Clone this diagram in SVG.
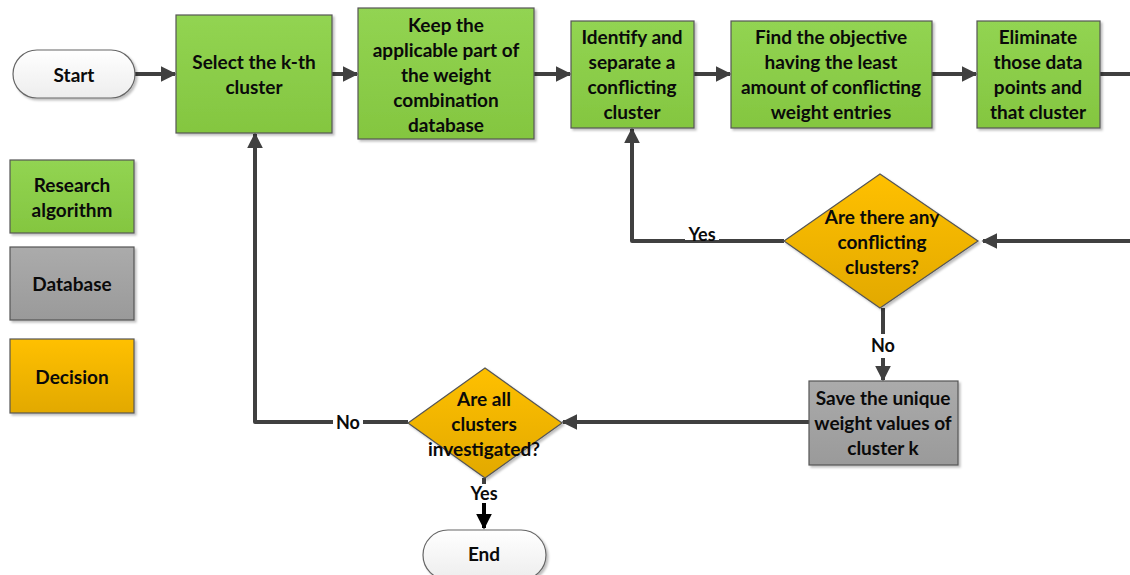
<svg xmlns="http://www.w3.org/2000/svg" width="1130" height="575" viewBox="0 0 1130 575">
  <defs>
    <linearGradient id="gGreen" x1="0" y1="0" x2="0" y2="1">
      <stop offset="0" stop-color="#92D452"/>
      <stop offset="1" stop-color="#84C640"/>
    </linearGradient>
    <linearGradient id="gGray" x1="0" y1="0" x2="0" y2="1">
      <stop offset="0" stop-color="#ABABAB"/>
      <stop offset="1" stop-color="#9A9A9A"/>
    </linearGradient>
    <linearGradient id="gOrange" x1="0" y1="0" x2="0" y2="1">
      <stop offset="0" stop-color="#FFC000"/>
      <stop offset="1" stop-color="#E2A900"/>
    </linearGradient>
    <linearGradient id="gWhite" x1="0" y1="0" x2="0" y2="1">
      <stop offset="0" stop-color="#FFFFFF"/>
      <stop offset="1" stop-color="#EDEDED"/>
    </linearGradient>
    <filter id="shadow" x="-10%" y="-10%" width="130%" height="130%">
      <feDropShadow dx="2" dy="2" stdDeviation="1.2" flood-color="#000" flood-opacity="0.25"/>
    </filter>
    <marker id="arrow" viewBox="0 0 10 10" refX="9" refY="5" markerWidth="4" markerHeight="4.4" orient="auto" markerUnits="strokeWidth">
      <path d="M0,0 L10,5 L0,10 z" fill="#404040"/>
    </marker>
    <marker id="arrowBlack" viewBox="0 0 10 10" refX="9" refY="5" markerWidth="4" markerHeight="4.4" orient="auto" markerUnits="strokeWidth">
      <path d="M0,0 L10,5 L0,10 z" fill="#000"/>
    </marker>
  </defs>
  <style>
    .proc { fill: url(#gGreen); stroke: #555; stroke-width: 1.2; filter: url(#shadow); }
    .db { fill: url(#gGray); stroke: #555; stroke-width: 1.2; filter: url(#shadow); }
    .dec { fill: url(#gOrange); stroke: #555; stroke-width: 1.2; filter: url(#shadow); }
    .term { fill: url(#gWhite); stroke: #666; stroke-width: 1.2; filter: url(#shadow); }
    .t { font-family: Lato, "Liberation Sans", sans-serif; font-weight: bold; font-size: 19px; fill: #0a0a0a; text-anchor: middle; dominant-baseline: central; }
    .lbl { font-family: Lato, "Liberation Sans", sans-serif; font-weight: bold; font-size: 18px; fill: #0a0a0a; text-anchor: middle; dominant-baseline: central; }
    .line { fill: none; stroke: #404040; stroke-width: 4; stroke-linejoin: round; }
    .arr { marker-end: url(#arrow); }
  </style>

  <!-- connectors -->
  <g id="connectors">
    <path class="line arr" d="M135,74 H175"/>
    <path class="line arr" d="M332,74 H357"/>
    <path class="line arr" d="M534,74 H570"/>
    <path class="line arr" d="M694,74 H730"/>
    <path class="line arr" d="M932,74 H976"/>
    <path class="line" d="M1100,74 H1130"/>
    <!-- feedback into the conflict check -->
    <path class="line arr" d="M1130,241 H983"/>
    <!-- Yes: back to identify -->
    <path class="line arr" d="M784,241 H632 V129"/>
    <rect x="685" y="224" width="34" height="16" fill="#fff"/>
    <text class="lbl" x="702" y="234">Yes</text>
    <!-- No: down to save -->
    <path class="line" d="M883,308 V334"/>
    <text class="lbl" x="883" y="345">No</text>
    <path class="line arr" d="M883,358 V380"/>
    <!-- save to all-clusters check -->
    <path class="line arr" d="M809,422 H563"/>
    <!-- No: back to select -->
    <path class="line arr" d="M408,422 H255 V134"/>
    <rect x="333" y="412" width="30" height="20" fill="#fff"/>
    <text class="lbl" x="348" y="422">No</text>
    <!-- Yes: to end -->
    <path class="line" d="M484,478 V484" stroke="#000"/>
    <text class="lbl" x="484" y="493">Yes</text>
    <path d="M484,503 V528" fill="none" stroke="#000" stroke-width="4" marker-end="url(#arrowBlack)"/>
  </g>

  <!-- legend -->
  <g id="legend-research">
    <rect class="proc" x="10" y="160" width="124" height="73"/>
    <text class="t" x="72" y="184">Research</text>
    <text class="t" x="72" y="209">algorithm</text>
  </g>
  <g id="legend-database">
    <rect class="db" x="10" y="247" width="124" height="73"/>
    <text class="t" x="72" y="283">Database</text>
  </g>
  <g id="legend-decision">
    <rect class="dec" x="10" y="339" width="124" height="74"/>
    <text class="t" x="72" y="376">Decision</text>
  </g>

  <!-- flow nodes -->
  <g id="start">
    <rect class="term" x="13" y="50" width="122" height="48" rx="24"/>
    <text class="t" x="74" y="74">Start</text>
  </g>
  <g id="select">
    <rect class="proc" x="176" y="15" width="156" height="118"/>
    <text class="t" x="254" y="61">Select the k-th</text>
    <text class="t" x="254" y="86">cluster</text>
  </g>
  <g id="keep">
    <rect class="proc" x="358" y="8" width="176" height="131"/>
    <text class="t" x="446" y="24">Keep the</text>
    <text class="t" x="446" y="49">applicable part of</text>
    <text class="t" x="446" y="74">the weight</text>
    <text class="t" x="446" y="99">combination</text>
    <text class="t" x="446" y="124">database</text>
  </g>
  <g id="identify">
    <rect class="proc" x="571" y="21" width="123" height="107"/>
    <text class="t" x="632" y="36">Identify and</text>
    <text class="t" x="632" y="61">separate a</text>
    <text class="t" x="632" y="86">conflicting</text>
    <text class="t" x="632" y="111">cluster</text>
  </g>
  <g id="find">
    <rect class="proc" x="731" y="21" width="201" height="107"/>
    <text class="t" x="831" y="36">Find the objective</text>
    <text class="t" x="831" y="61">having the least</text>
    <text class="t" x="831" y="86">amount of conflicting</text>
    <text class="t" x="831" y="111">weight entries</text>
  </g>
  <g id="eliminate">
    <rect class="proc" x="977" y="21" width="123" height="107"/>
    <text class="t" x="1038" y="36">Eliminate</text>
    <text class="t" x="1038" y="61">those data</text>
    <text class="t" x="1038" y="86">points and</text>
    <text class="t" x="1038" y="111">that cluster</text>
  </g>
  <g id="conflict-check">
    <polygon class="dec" points="880,174 978,241 880,308 784,241"/>
    <text class="t" x="882" y="216">Are there any</text>
    <text class="t" x="882" y="241">conflicting</text>
    <text class="t" x="882" y="266">clusters?</text>
  </g>
  <g id="save">
    <rect class="db" x="809" y="381" width="149" height="84"/>
    <text class="t" x="883" y="397">Save the unique</text>
    <text class="t" x="883" y="422">weight values of</text>
    <text class="t" x="883" y="447">cluster k</text>
  </g>
  <g id="all-check">
    <polygon class="dec" points="485,368 562,423 485,478 408,423"/>
    <text class="t" x="484" y="398">Are all</text>
    <text class="t" x="484" y="423">clusters</text>
    <text class="t" x="484" y="448">investigated?</text>
  </g>
  <g id="end">
    <rect class="term" x="423" y="530" width="123" height="50" rx="25"/>
    <text class="t" x="484" y="553">End</text>
  </g>
</svg>
